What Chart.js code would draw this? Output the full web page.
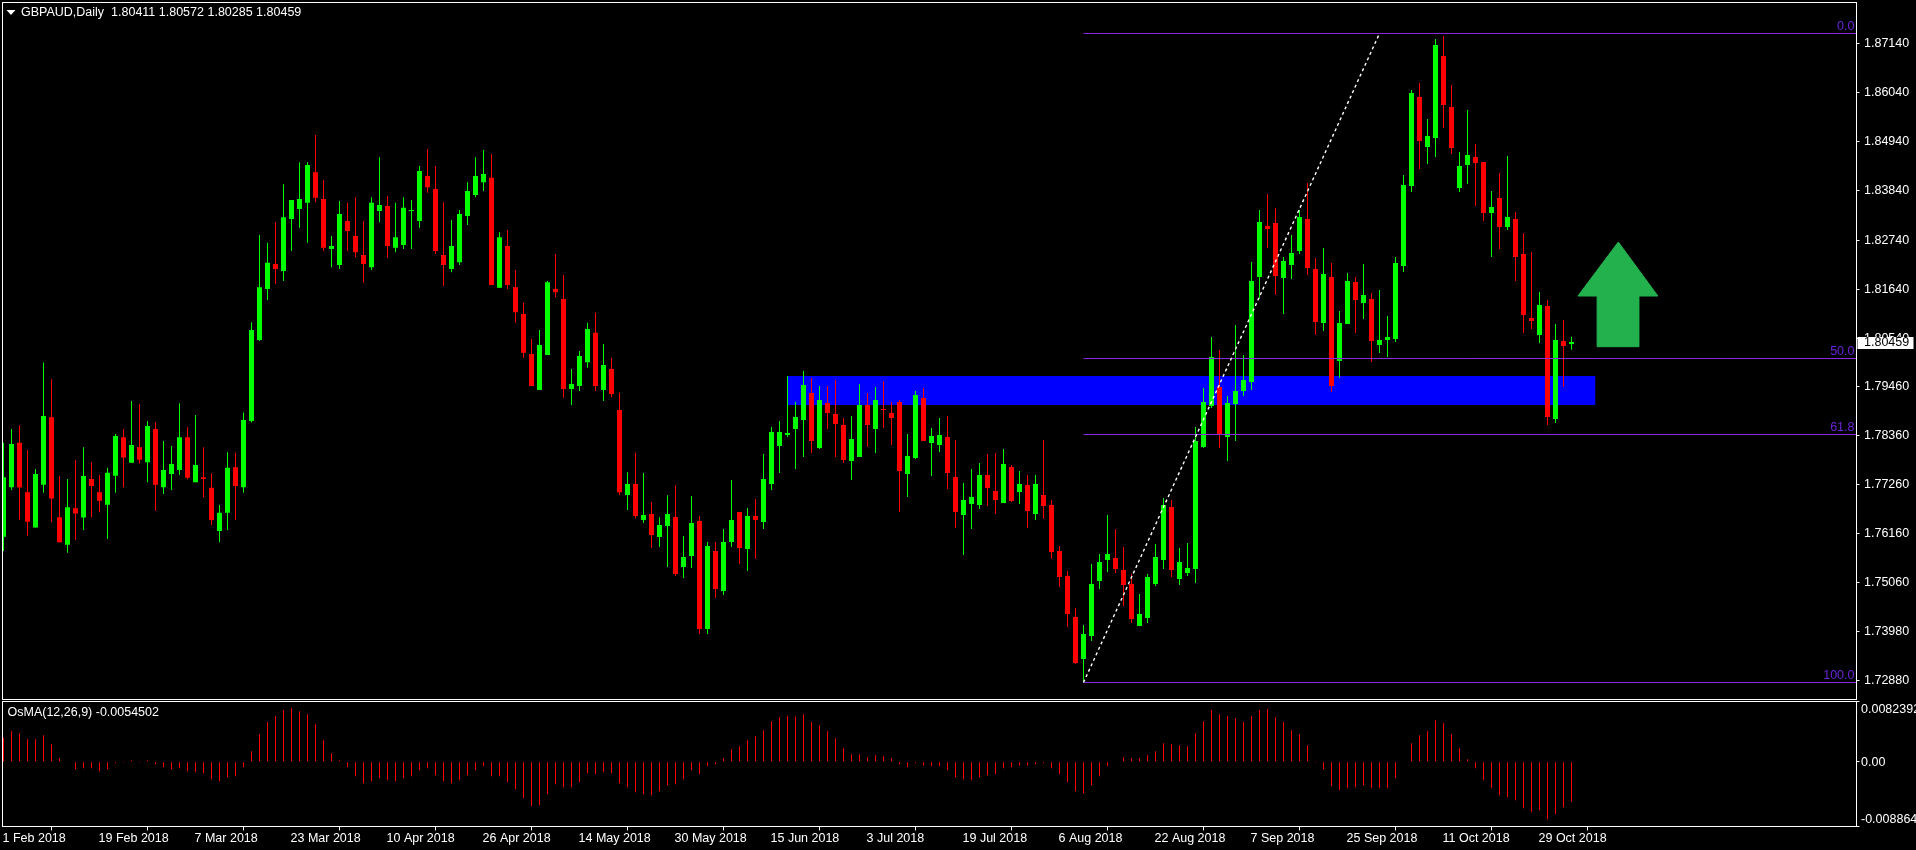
<!DOCTYPE html>
<html>
<head>
<meta charset="utf-8">
<title>GBPAUD Daily</title>
<script src="https://cdn.jsdelivr.net/npm/chart.js@4"></script>
<style>
  html, body { margin: 0; padding: 0; background: #000; overflow: hidden; }
  canvas { position: absolute; left: 0; display: block; }
  #mainChart { top: 0; }
  #osmaChart { top: 700px; }
</style>
</head>
<body>
<canvas id="mainChart" width="1916" height="700"></canvas>
<canvas id="osmaChart" width="1916" height="150"></canvas>
<script>
// --- daily candles ---
const opens = [
  1.76094,1.77206,1.78198,1.77094,1.76302,1.77262,1.78774,1.76534,1.75918,1.76734,
  1.76526,1.77390,1.77094,1.76814,1.77462,1.78326,1.77750,1.78102,1.77766,1.78510,
  1.77206,1.77502,1.77590,1.78326,1.77318,1.77430,1.77190,1.76222,1.76630,1.77654,
  1.77206,1.78686,1.80502,1.81646,1.82206,1.82046,1.83214,1.83438,1.83574,1.84262,
  1.83662,1.82542,1.82182,1.83166,1.82830,1.82406,1.82134,1.83390,1.83502,1.82566,
  1.82630,1.83390,1.83166,1.84174,1.83886,1.82406,1.82094,1.82246,1.83278,1.83750,
  1.84038,1.84134,1.81670,1.82606,1.81686,1.81086,1.80190,1.79382,1.80166,1.81646,
  1.81422,1.79406,1.79470,1.80006,1.80662,1.79382,1.79854,1.78934,1.77030,1.77278,
  1.76470,1.76604,1.76089,1.76335,1.76537,1.75417,1.75663,1.76447,1.74028,1.75775,
  1.74879,1.75977,1.76649,1.75820,1.76559,1.76425,1.77276,1.78127,1.78374,1.78508,
  1.78710,1.79315,1.78083,1.79091,1.78844,1.78598,1.77791,1.77881,1.79046,1.78508,
  1.78956,1.78867,1.79113,1.77500,1.77859,1.79203,1.78195,1.78150,1.78329,1.77433,
  1.76582,1.76828,1.76806,1.77478,1.77119,1.76851,1.77657,1.77097,1.77254,1.76604,
  1.77030,1.76806,1.75775,1.75215,1.74297,1.73356,1.73871,1.75103,1.75574,1.75619,
  1.75350,1.75036,1.74095,1.74274,1.75036,1.75574,1.76761,1.75148,1.75283,1.75372,
  1.78105,1.79023,1.79449,1.78329,1.79068,1.79359,1.79561,1.81913,1.83055,1.83123,
  1.81890,1.82182,1.82495,1.83212,1.82092,1.80882,1.81913,1.80031,1.80860,1.81801,
  1.81330,1.81420,1.80390,1.80502,1.80524,1.82159,1.83951,1.85945,1.84825,1.85027,
  1.86864,1.85721,1.83907,1.84422,1.84601,1.84489,1.83347,1.83683,1.83033,1.83212,
  1.82428,1.80994,1.80614,1.81263,1.78732,1.80479,1.80411
];
const closes = [
  1.77430,1.78174,1.77198,1.76430,1.77502,1.78798,1.76950,1.75974,1.76758,1.76614,
  1.77454,1.77230,1.76902,1.77526,1.78350,1.77870,1.78150,1.77822,1.78574,1.77262,
  1.77590,1.77726,1.78326,1.77414,1.77702,1.77390,1.76470,1.76630,1.77638,1.77230,
  1.78710,1.80726,1.81686,1.82230,1.82094,1.83254,1.83638,1.83662,1.84422,1.83686,
  1.82566,1.82606,1.83326,1.82942,1.82470,1.82206,1.83574,1.83526,1.82606,1.82806,
  1.83462,1.83414,1.84286,1.83926,1.82494,1.82182,1.82606,1.83326,1.83838,1.84174,
  1.84222,1.81734,1.82806,1.81734,1.81126,1.80214,1.79470,1.80390,1.81798,1.81574,
  1.79406,1.79518,1.80142,1.80750,1.79470,1.79942,1.79294,1.77094,1.77278,1.76558,
  1.76582,1.76134,1.76358,1.76604,1.75260,1.75641,1.76403,1.74028,1.75887,1.74924,
  1.75977,1.76470,1.75843,1.76559,1.76470,1.77388,1.78441,1.78441,1.78419,1.78777,
  1.79494,1.78239,1.79158,1.78867,1.78620,1.77814,1.78284,1.79046,1.78598,1.79158,
  1.78934,1.78755,1.77567,1.77903,1.79270,1.78239,1.78351,1.78374,1.77523,1.76649,
  1.76918,1.76985,1.77478,1.77187,1.76918,1.77724,1.76895,1.77276,1.76671,1.77276,
  1.76783,1.75753,1.75193,1.74364,1.73266,1.73916,1.75036,1.75529,1.75708,1.75372,
  1.75014,1.74252,1.74364,1.75193,1.75641,1.76806,1.75350,1.75529,1.75395,1.78239,
  1.79113,1.80121,1.78396,1.79091,1.79359,1.79606,1.81823,1.83145,1.82988,1.81935,
  1.82271,1.82451,1.83257,1.82115,1.80905,1.81980,1.79471,1.80882,1.81823,1.81398,
  1.81510,1.80479,1.80502,1.80569,1.82227,1.83974,1.86035,1.84959,1.85071,1.87110,
  1.85766,1.84803,1.84399,1.84646,1.84467,1.83347,1.83481,1.83033,1.83257,1.82361,
  1.81062,1.80927,1.81286,1.78777,1.80502,1.80367,1.80459
];
const highs = [
  1.78198,1.78510,1.78598,1.78038,1.77614,1.79998,1.79622,1.77454,1.77390,1.77814,
  1.78102,1.77766,1.77478,1.77638,1.78398,1.78510,1.79134,1.79070,1.78686,1.78662,
  1.78238,1.78126,1.79086,1.78550,1.78822,1.78102,1.77518,1.76806,1.77990,1.77974,
  1.78878,1.80902,1.82854,1.82678,1.83142,1.83990,1.83638,1.84486,1.84486,1.85094,
  1.84086,1.82830,1.83614,1.83574,1.83702,1.83166,1.83702,1.84598,1.83726,1.83574,
  1.83702,1.83638,1.84398,1.84782,1.84398,1.83590,1.83190,1.83414,1.84038,1.84598,
  1.84758,1.84670,1.82918,1.82966,1.82070,1.81334,1.80526,1.80726,1.81822,1.82430,
  1.81958,1.79854,1.80254,1.80886,1.81110,1.80414,1.80102,1.79318,1.77542,1.77974,
  1.77523,1.76873,1.76530,1.77022,1.77246,1.76111,1.77007,1.76559,1.75977,1.75977,
  1.76268,1.77366,1.76649,1.76739,1.76940,1.77948,1.78553,1.78687,1.79696,1.79113,
  1.79808,1.79651,1.79472,1.79472,1.79606,1.78755,1.78799,1.79516,1.79315,1.79449,
  1.79584,1.79113,1.79158,1.78396,1.79359,1.79427,1.78531,1.78755,1.78799,1.78262,
  1.77299,1.77612,1.77747,1.77948,1.77971,1.78060,1.77702,1.77567,1.77478,1.77478,
  1.78262,1.76918,1.75887,1.75327,1.74498,1.74118,1.75484,1.75708,1.76582,1.76268,
  1.75865,1.75260,1.74812,1.75260,1.75932,1.76963,1.76918,1.75843,1.75954,1.78553,
  1.79427,1.80569,1.80278,1.79248,1.80838,1.80166,1.82249,1.83414,1.83772,1.83459,
  1.82361,1.82854,1.83414,1.84019,1.82339,1.82563,1.82227,1.81151,1.82003,1.81913,
  1.82204,1.81554,1.81622,1.81039,1.82361,1.84198,1.86102,1.86259,1.85452,1.87244,
  1.87312,1.86214,1.84713,1.85654,1.84892,1.84489,1.83839,1.84243,1.84623,1.83369,
  1.82899,1.82473,1.81577,1.81398,1.80860,1.80950,1.80572
];
const lows = [
  1.75774,1.77142,1.76478,1.76118,1.76302,1.77078,1.76422,1.75974,1.75734,1.76022,
  1.76246,1.76534,1.76646,1.76046,1.77078,1.77206,1.77750,1.77734,1.77318,1.76670,
  1.77054,1.77142,1.77478,1.77382,1.77318,1.76982,1.76358,1.75974,1.76246,1.76470,
  1.77078,1.78654,1.80478,1.81398,1.81758,1.81822,1.82494,1.83014,1.82678,1.83590,
  1.82494,1.82134,1.82094,1.82494,1.82358,1.81782,1.82070,1.83142,1.82342,1.82470,
  1.82542,1.82542,1.83014,1.83798,1.82430,1.81710,1.82022,1.82182,1.83078,1.83702,
  1.83838,1.81734,1.81670,1.81646,1.80886,1.80102,1.79470,1.79382,1.80166,1.81462,
  1.79206,1.79046,1.79358,1.79878,1.79358,1.79134,1.79222,1.77030,1.76694,1.76502,
  1.76403,1.75843,1.75865,1.75417,1.75215,1.75170,1.75395,1.73916,1.73916,1.74722,
  1.74790,1.75865,1.75484,1.75327,1.75596,1.76268,1.77142,1.77523,1.78329,1.77612,
  1.77881,1.77971,1.78060,1.78508,1.77881,1.77747,1.77366,1.77881,1.78105,1.77971,
  1.78531,1.78150,1.76649,1.76985,1.77836,1.78239,1.77455,1.77993,1.77164,1.76291,
  1.75686,1.76268,1.76716,1.76783,1.76604,1.76851,1.76873,1.76828,1.76291,1.76470,
  1.76492,1.75596,1.74969,1.74073,1.73244,1.72841,1.73759,1.74924,1.75305,1.75283,
  1.74543,1.74162,1.74095,1.74162,1.74991,1.75372,1.75193,1.75014,1.75215,1.75058,
  1.78083,1.78979,1.78083,1.77791,1.78239,1.79248,1.79382,1.81435,1.82563,1.81510,
  1.81084,1.81868,1.82428,1.81958,1.80614,1.80703,1.79337,1.79650,1.80860,1.80659,
  1.80972,1.80009,1.80210,1.80121,1.80457,1.82025,1.83817,1.84332,1.84444,1.84601,
  1.85251,1.84668,1.83817,1.83996,1.83503,1.83167,1.82361,1.82540,1.82966,1.81823,
  1.80659,1.80748,1.80434,1.78598,1.78642,1.79449,1.80285
];
const osma = [
  0.00331,0.00418,0.00391,0.00308,0.00308,0.00363,0.00240,0.00048,0.00007,-0.00103,
  -0.00089,-0.00089,-0.00130,-0.00103,-0.00021,-0.00002,0.00021,-0.00002,0.00021,-0.00034,
  -0.00075,-0.00103,-0.00089,-0.00130,-0.00144,-0.00158,-0.00240,-0.00267,-0.00213,-0.00199,
  -0.00075,0.00144,0.00377,0.00542,0.00624,0.00706,0.00733,0.00692,0.00651,0.00514,
  0.00295,0.00117,0.00021,-0.00075,-0.00199,-0.00295,-0.00267,-0.00226,-0.00254,-0.00267,
  -0.00226,-0.00199,-0.00117,-0.00089,-0.00185,-0.00267,-0.00295,-0.00254,-0.00185,-0.00117,
  -0.00062,-0.00199,-0.00199,-0.00281,-0.00377,-0.00500,-0.00610,-0.00596,-0.00446,-0.00308,
  -0.00350,-0.00350,-0.00281,-0.00158,-0.00171,-0.00144,-0.00158,-0.00295,-0.00350,-0.00418,
  -0.00446,-0.00459,-0.00404,-0.00322,-0.00308,-0.00240,-0.00117,-0.00171,-0.00062,-0.00034,
  0.00048,0.00171,0.00213,0.00295,0.00350,0.00432,0.00555,0.00610,0.00628,0.00619,
  0.00651,0.00542,0.00500,0.00418,0.00322,0.00185,0.00103,0.00103,0.00062,0.00089,
  0.00075,0.00048,-0.00034,-0.00075,-0.00021,-0.00048,-0.00062,-0.00062,-0.00117,-0.00213,
  -0.00240,-0.00254,-0.00213,-0.00185,-0.00171,-0.00089,-0.00075,-0.00048,-0.00048,-0.00034,
  -0.00021,-0.00089,-0.00171,-0.00281,-0.00404,-0.00432,-0.00322,-0.00199,-0.00062,-0.00007,
  0.00062,0.00048,0.00048,0.00089,0.00144,0.00254,0.00240,0.00226,0.00213,0.00391,
  0.00555,0.00706,0.00651,0.00624,0.00596,0.00542,0.00624,0.00706,0.00720,0.00610,
  0.00542,0.00432,0.00377,0.00226,-0.00002,-0.00103,-0.00336,-0.00391,-0.00363,-0.00350,
  -0.00322,-0.00363,-0.00363,-0.00363,-0.00226,-0.00007,0.00254,0.00363,0.00418,0.00569,
  0.00528,0.00377,0.00185,0.00034,-0.00089,-0.00254,-0.00363,-0.00459,-0.00487,-0.00528,
  -0.00638,-0.00692,-0.00665,-0.00788,-0.00720,-0.00624,-0.00545
];

// --- axis ticks ---
const priceTicks = [1.8714,1.8604,1.8494,1.8384,1.8274,1.8164,1.8054,1.7946,1.7836,1.7726,1.7616,1.7506,1.7398,1.7288];
const dateTickBars = [0,12,24,36,48,60,72,84,96,108,120,132,144,156,168,180,192];
const dateTickLabels = ["1 Feb 2018","19 Feb 2018","7 Mar 2018","23 Mar 2018","10 Apr 2018","26 Apr 2018","14 May 2018","30 May 2018","15 Jun 2018","3 Jul 2018","19 Jul 2018","6 Aug 2018","22 Aug 2018","7 Sep 2018","25 Sep 2018","11 Oct 2018","29 Oct 2018"];
const osmaMax = 0.0082392, osmaMin = -0.008864;
const osmaTickLabels = ["0.0082392","0.00","-0.008864"];

// --- objects placed on the chart ---
const fibStartBar = 135, fibEndBar = 231.625;
const fibLevels = [1.87368, 1.80087, 1.78385, 1.72829];
const fibLabels = ["0.0", "50.0", "61.8", "100.0"];
const trendBars = [135, 172], trendPrices = [1.72829, 1.87368];
const zoneBars = [98, 199], zoneTop = 1.79695, zoneBottom = 1.79046;
const arrowBars   = [201.85, 206.8, 204.4, 204.4, 199.2, 199.2, 196.8, 201.85];
const arrowPrices = [1.82697, 1.81487, 1.81487, 1.80352, 1.80352, 1.81487, 1.81487, 1.82697];
const lastPrice = 1.80459;
const headerText = "GBPAUD,Daily  1.80411 1.80572 1.80285 1.80459";
const osmaTitle = "OsMA(12,26,9) -0.0054502";

const UP = "#00ff00", DOWN = "#ff0000", WHITE = "#ffffff";
const FONT = '12.5px "Liberation Sans"';
const bars = opens.map((_, i) => i);
const candleColors = bars.map(i => closes[i] >= opens[i] ? UP : DOWN);

Chart.defaults.font.family = '"Liberation Sans"';
Chart.defaults.font.size = 12.5;
Chart.defaults.color = WHITE;

const xRange = { type: "linear", offset: false, min: -0.125, max: 231.625 };

// right axis: fixed width, no padding for the tick labels
const fitRightAxis = s => { s.width = 59.5; s.paddingTop = 0; s.paddingBottom = 0; };

// white box around a pane
const framePlugin = {
  id: "frame",
  afterDatasetsDraw(chart) {
    const a = chart.chartArea, c = chart.ctx;
    c.save();
    c.strokeStyle = WHITE;
    c.lineWidth = 1;
    c.strokeRect(a.left, a.top, a.right - a.left, a.bottom - a.top);
    c.restore();
  }
};

// header, fibo labels and the current price box
const mainLabels = {
  id: "mainLabels",
  afterDraw(chart) {
    const c = chart.ctx, y = chart.scales.y, a = chart.chartArea;
    c.save();
    c.font = FONT;
    c.textBaseline = "middle";

    c.fillStyle = WHITE;
    c.beginPath();
    c.moveTo(6.5, 10); c.lineTo(15.5, 10); c.lineTo(11, 15); c.closePath();
    c.fill();
    c.fillText(headerText, 21, 13);

    c.fillStyle = "#6a24d8";
    c.textAlign = "right";
    fibLevels.forEach((lv, i) => c.fillText(fibLabels[i], a.right - 2, y.getPixelForValue(lv) - 6.5));

    const py = Math.round(y.getPixelForValue(lastPrice));
    c.fillStyle = WHITE;
    c.fillRect(a.right + 1, py - 5, 56, 12);
    c.fillStyle = "#000";
    c.textAlign = "left";
    c.fillText(lastPrice.toFixed(5), 1864, py + 1);
    c.restore();
  }
};

const osmaLabels = {
  id: "osmaLabels",
  afterDraw(chart) {
    const c = chart.ctx;
    c.save();
    c.font = FONT;
    c.textBaseline = "middle";
    c.fillStyle = WHITE;
    c.fillText(osmaTitle, 7.5, 13);
    c.restore();
  }
};

new Chart(document.getElementById("mainChart"), {
  type: "bar",
  data: {
    datasets: [
      {
        type: "line", order: 9,
        data: zoneBars.map(x => ({ x, y: zoneTop })),
        fill: { value: zoneBottom }, backgroundColor: "#0000ff",
        borderWidth: 0, pointRadius: 0
      },
      {
        order: 8,
        data: bars.map(i => ({ x: i, y: [lows[i], highs[i]] })),
        backgroundColor: candleColors, barThickness: 1
      },
      {
        order: 7,
        data: bars.map(i => ({ x: i, y: [opens[i], closes[i]] })),
        backgroundColor: candleColors, barThickness: 5
      },
      ...fibLevels.map(lv => ({
        type: "line", order: 3,
        data: [{ x: fibStartBar, y: lv }, { x: fibEndBar, y: lv }],
        borderColor: "#8a2be2", borderWidth: 1, pointRadius: 0
      })),
      {
        type: "line", order: 2,
        data: trendBars.map((x, i) => ({ x, y: trendPrices[i] })),
        borderColor: WHITE, borderWidth: 1.4, borderDash: [3, 3], pointRadius: 0
      },
      {
        type: "line", order: 1,
        data: arrowBars.map((x, i) => ({ x, y: arrowPrices[i] })),
        fill: "shape", backgroundColor: "#22b14c", borderColor: "#22b14c",
        borderWidth: 1, pointRadius: 0
      }
    ]
  },
  options: {
    responsive: false,
    animation: false,
    events: [],
    devicePixelRatio: 1,
    layout: { autoPadding: false, padding: { left: 2.5, top: 2.5, right: 0, bottom: 0.5 } },
    datasets: { bar: { grouped: false, inflateAmount: 0, borderWidth: 0 } },
    plugins: { legend: { display: false }, tooltip: { enabled: false } },
    scales: {
      x: { ...xRange, display: false },
      y: {
        position: "right",
        min: 1.72449, max: 1.88062,
        afterFit: fitRightAxis,
        afterBuildTicks: s => { s.ticks = priceTicks.map(value => ({ value })); },
        grid: { drawOnChartArea: false, color: WHITE, tickLength: 3 },
        border: { color: WHITE },
        ticks: { padding: 4.5, autoSkip: false, callback: v => v.toFixed(5) }
      }
    }
  },
  plugins: [framePlugin, mainLabels]
});

new Chart(document.getElementById("osmaChart"), {
  type: "bar",
  data: {
    datasets: [{
      data: bars.map(i => ({ x: i, y: osma[i] })),
      backgroundColor: DOWN, barThickness: 1
    }]
  },
  options: {
    responsive: false,
    animation: false,
    events: [],
    devicePixelRatio: 1,
    layout: { autoPadding: false, padding: { left: 2.5, top: 1.5, right: 0, bottom: 0 } },
    datasets: { bar: { grouped: false, inflateAmount: 0, borderWidth: 0 } },
    plugins: { legend: { display: false }, tooltip: { enabled: false } },
    scales: {
      x: {
        ...xRange,
        afterFit: s => { s.height = 23.5; },
        afterBuildTicks: s => { s.ticks = dateTickBars.map(value => ({ value })); },
        grid: { drawOnChartArea: false, color: WHITE, tickLength: 4 },
        border: { color: WHITE },
        ticks: {
          align: "start", autoSkip: false, maxRotation: 0, padding: 1, labelOffset: -1,
          callback: v => dateTickLabels[dateTickBars.indexOf(v)]
        }
      },
      y: {
        position: "right",
        min: osmaMin, max: osmaMax,
        afterFit: fitRightAxis,
        afterBuildTicks: s => { s.ticks = [osmaMax, 0, osmaMin].map(value => ({ value })); },
        grid: { drawOnChartArea: false, color: WHITE, tickLength: 3 },
        border: { color: WHITE },
        ticks: {
          padding: 1.5, autoSkip: false, labelOffset: 1,
          // the two outer labels sit inside the pane, half a line in
          callback: v => v === osmaMax ? ["", osmaTickLabels[0]]
            : v === osmaMin ? [osmaTickLabels[2], ""] : osmaTickLabels[1]
        }
      }
    }
  },
  plugins: [framePlugin, osmaLabels]
});
</script>
</body>
</html>
